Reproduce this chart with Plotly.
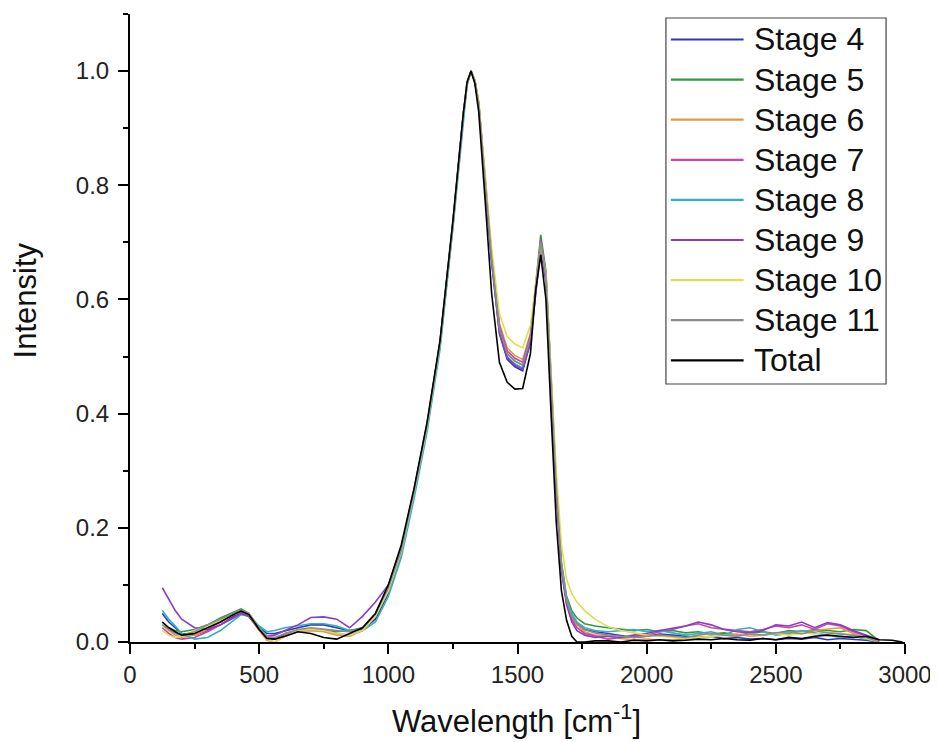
import plotly.graph_objects as go

# ---------------- data ----------------
WAVENUMBER = [
    125, 150, 175, 200, 250, 300, 350, 400, 430, 460, 500, 530, 560, 600, 650, 700, 750, 800, 850, 900, 950, 1000,
    1050, 1100, 1150, 1200, 1250, 1290, 1305, 1320, 1335, 1350, 1380, 1400, 1430, 1460, 1490, 1520, 1550, 1570,
    1590, 1610, 1630, 1650, 1670, 1690, 1710, 1730, 1760, 1800,
    1850, 1900, 1950, 2000, 2050, 2100, 2150, 2200, 2250, 2300, 2350, 2400, 2450, 2500, 2550, 2600, 2650, 2700,
    2750, 2800, 2850, 2900,
]

WAVENUMBER_TOTAL = [
    125, 150, 175, 200, 250, 300, 350, 400, 430, 460, 500, 530, 560, 600, 650, 700, 750, 800, 850, 900, 950, 1000,
    1050, 1100, 1150, 1200, 1250, 1290, 1305, 1320, 1335, 1350, 1380, 1400, 1430, 1460, 1490, 1520, 1550, 1570,
    1590, 1610, 1630, 1650, 1670, 1690, 1710, 1730, 1760, 1800,
    1850, 1900, 1950, 2000, 2050, 2100, 2150, 2200, 2250, 2300, 2350, 2400, 2450, 2500, 2550, 2600, 2650, 2700,
    2750, 2800, 2850, 2900, 2950, 2990,
]

STAGE_4 = [
    0.050, 0.035, 0.025, 0.015, 0.012, 0.020, 0.030, 0.045, 0.050, 0.045, 0.025, 0.015, 0.015, 0.020, 0.025, 0.030,
    0.030, 0.025, 0.020, 0.022, 0.040, 0.085,
    0.155, 0.260, 0.375, 0.520, 0.730, 0.920, 0.978, 1.000, 0.982, 0.940, 0.775, 0.665, 0.540, 0.495, 0.482, 0.475,
    0.525, 0.610, 0.695, 0.635, 0.450, 0.270, 0.130, 0.070, 0.045, 0.032, 0.022, 0.018,
    0.015, 0.012, 0.008, 0.010, 0.014, 0.012, 0.010, 0.008, 0.010, 0.006, 0.008, 0.005, 0.006, 0.004, 0.006, 0.005,
    0.008, 0.004, 0.006, 0.005, 0.003, 0.000,
]
STAGE_5 = [
    0.035, 0.025, 0.020, 0.018, 0.022, 0.030, 0.042, 0.052, 0.058, 0.050, 0.025, 0.008, 0.005, 0.015, 0.020, 0.022,
    0.020, 0.018, 0.020, 0.025, 0.045, 0.090,
    0.160, 0.265, 0.380, 0.525, 0.735, 0.925, 0.980, 1.000, 0.983, 0.943, 0.780, 0.672, 0.550, 0.505, 0.492, 0.485,
    0.535, 0.625, 0.713, 0.650, 0.460, 0.280, 0.140, 0.080, 0.055, 0.042, 0.032, 0.028,
    0.025, 0.022, 0.020, 0.022, 0.018, 0.020, 0.016, 0.018, 0.014, 0.016, 0.012, 0.015, 0.018, 0.015, 0.020, 0.018,
    0.022, 0.020, 0.018, 0.022, 0.020, 0.002,
]
STAGE_6 = [
    0.030, 0.020, 0.012, 0.008, 0.012, 0.022, 0.035, 0.048, 0.052, 0.045, 0.020, 0.003, 0.000, 0.010, 0.018, 0.020,
    0.018, 0.012, 0.010, 0.020, 0.045, 0.090,
    0.158, 0.262, 0.378, 0.522, 0.732, 0.922, 0.979, 1.000, 0.984, 0.945, 0.785, 0.678, 0.558, 0.515, 0.502, 0.495,
    0.540, 0.620, 0.700, 0.640, 0.455, 0.275, 0.135, 0.075, 0.045, 0.030, 0.018, 0.012,
    0.010, 0.006, 0.004, 0.005, 0.003, 0.004, 0.005, 0.008, 0.010, 0.012, 0.014, 0.010, 0.012, 0.016, 0.015, 0.018,
    0.020, 0.022, 0.025, 0.015, 0.008, 0.000,
]
STAGE_7 = [
    0.025, 0.015, 0.008, 0.005, 0.008, 0.018, 0.030, 0.042, 0.050, 0.045, 0.022, 0.008, 0.005, 0.012, 0.020, 0.022,
    0.020, 0.015, 0.012, 0.020, 0.045, 0.090,
    0.155, 0.260, 0.376, 0.520, 0.730, 0.920, 0.978, 1.000, 0.983, 0.943, 0.782, 0.675, 0.555, 0.510, 0.497, 0.490,
    0.538, 0.620, 0.705, 0.645, 0.455, 0.270, 0.130, 0.068, 0.040, 0.025, 0.015, 0.010,
    0.005, 0.008, 0.010, 0.012, 0.018, 0.022, 0.028, 0.032, 0.025, 0.022, 0.020, 0.018, 0.022, 0.028, 0.025, 0.030,
    0.022, 0.032, 0.028, 0.018, 0.010, 0.003,
]
STAGE_8 = [
    0.055, 0.040, 0.028, 0.015, 0.005, 0.008, 0.020, 0.038, 0.048, 0.045, 0.028, 0.018, 0.020, 0.025, 0.028, 0.032,
    0.032, 0.028, 0.020, 0.020, 0.035, 0.080,
    0.148, 0.252, 0.368, 0.512, 0.725, 0.915, 0.976, 1.000, 0.982, 0.942, 0.778, 0.668, 0.546, 0.500, 0.487, 0.480,
    0.530, 0.615, 0.700, 0.640, 0.455, 0.275, 0.135, 0.075, 0.050, 0.035, 0.025, 0.020,
    0.018, 0.020, 0.022, 0.018, 0.020, 0.016, 0.012, 0.015, 0.018, 0.012, 0.022, 0.025, 0.018, 0.012, 0.015, 0.020,
    0.016, 0.012, 0.008, 0.010, 0.005, 0.000,
]
STAGE_9 = [
    0.095, 0.075, 0.055, 0.040, 0.025, 0.022, 0.030, 0.042, 0.050, 0.045, 0.022, 0.010, 0.012, 0.020, 0.030, 0.043,
    0.044, 0.040, 0.025, 0.045, 0.070, 0.100,
    0.165, 0.268, 0.382, 0.525, 0.735, 0.922, 0.980, 1.000, 0.982, 0.940, 0.776, 0.667, 0.543, 0.498, 0.485, 0.478,
    0.525, 0.605, 0.690, 0.630, 0.445, 0.265, 0.125, 0.065, 0.035, 0.020, 0.012, 0.008,
    0.010, 0.008, 0.012, 0.015, 0.020, 0.024, 0.028, 0.035, 0.030, 0.022, 0.018, 0.016, 0.020, 0.030, 0.028, 0.035,
    0.025, 0.034, 0.030, 0.020, 0.012, 0.004,
]
STAGE_10 = [
    0.020, 0.012, 0.008, 0.010, 0.020, 0.028, 0.038, 0.050, 0.055, 0.048, 0.022, 0.005, 0.000, 0.010, 0.020, 0.022,
    0.020, 0.015, 0.012, 0.020, 0.045, 0.090,
    0.157, 0.262, 0.377, 0.522, 0.732, 0.922, 0.979, 1.000, 0.985, 0.948, 0.792, 0.690, 0.575, 0.535, 0.522, 0.515,
    0.555, 0.625, 0.695, 0.645, 0.470, 0.300, 0.170, 0.110, 0.085, 0.070, 0.055, 0.040,
    0.027, 0.020, 0.016, 0.012, 0.010, 0.008, 0.006, 0.008, 0.010, 0.012, 0.010, 0.014, 0.012, 0.015, 0.012, 0.016,
    0.014, 0.018, 0.015, 0.012, 0.006, 0.000,
]
STAGE_11 = [
    0.030, 0.022, 0.015, 0.012, 0.018, 0.030, 0.040, 0.050, 0.056, 0.050, 0.025, 0.010, 0.008, 0.015, 0.022, 0.025,
    0.022, 0.020, 0.018, 0.025, 0.050, 0.095,
    0.160, 0.265, 0.380, 0.524, 0.733, 0.923, 0.980, 1.000, 0.983, 0.943, 0.780, 0.672, 0.550, 0.505, 0.492, 0.485,
    0.533, 0.618, 0.700, 0.640, 0.455, 0.272, 0.132, 0.072, 0.045, 0.032, 0.022, 0.016,
    0.012, 0.010, 0.008, 0.010, 0.012, 0.010, 0.008, 0.012, 0.015, 0.012, 0.010, 0.014, 0.012, 0.016, 0.018, 0.014,
    0.020, 0.016, 0.014, 0.012, 0.008, 0.000,
]
TOTAL = [
    0.035, 0.025, 0.018, 0.012, 0.015, 0.025, 0.035, 0.048, 0.054, 0.048, 0.022, 0.006, 0.005, 0.010, 0.018, 0.015,
    0.008, 0.005, 0.015, 0.025, 0.050, 0.100,
    0.170, 0.270, 0.385, 0.528, 0.738, 0.925, 0.981, 1.000, 0.978, 0.928, 0.740, 0.610, 0.490, 0.455, 0.443, 0.444,
    0.505, 0.615, 0.678, 0.600, 0.400, 0.210, 0.090, 0.038, 0.010, 0.000, 0.000, 0.002,
    0.002, 0.000, 0.003, 0.002, 0.004, 0.002, 0.003, 0.005, 0.004, 0.006, 0.004, 0.003, 0.006, 0.004, 0.008, 0.006,
    0.010, 0.012, 0.010, 0.008, 0.010, 0.004, 0.003, 0.000,
]

SERIES_NAMES = ["Stage 4", "Stage 5", "Stage 6", "Stage 7", "Stage 8", "Stage 9", "Stage 10", "Stage 11", "Total"]
SERIES_VALUES = [STAGE_4, STAGE_5, STAGE_6, STAGE_7, STAGE_8, STAGE_9, STAGE_10, STAGE_11, TOTAL]
SERIES_X = [WAVENUMBER] * 8 + [WAVENUMBER_TOTAL]
SERIES_COLORS = ["#3434b8", "#2e9a40", "#e29a48", "#cc44a6", "#30b0c4", "#8a3cc4", "#dede50", "#8c8c8c", "#000000"]

X_TICKS = [0, 500, 1000, 1500, 2000, 2500, 3000]
Y_TICKS = [0.0, 0.2, 0.4, 0.6, 0.8, 1.0]
X_TITLE = "Wavelength [cm<sup>-1</sup>]"
Y_TITLE = "Intensity"

# ---------------- layout geometry (pixels) ----------------
# The page body has an 8px default margin, so the figure is laid out 8px
# smaller and all reference pixel positions are shifted by -8.
OFF = 8
W, H = 938 - OFF, 742 - OFF
PL, PR, PT, PB = 130 - OFF, 908 - OFF, 14 - OFF, 642 - OFF
FONT = "Liberation Sans, Arial, sans-serif"


def px(xp):
    return (xp - OFF - PL) / (PR - PL)


def py(yp):
    return (PB - (yp - OFF)) / (PB - PT)


fig = go.Figure()
for name, xs, ys, col in zip(SERIES_NAMES, SERIES_X, SERIES_VALUES, SERIES_COLORS):
    fig.add_trace(go.Scatter(x=xs, y=ys, mode="lines", name=name,
                             line=dict(color=col, width=1.6), showlegend=False))

# custom Origin-style legend
shapes = [dict(type="rect", xref="paper", yref="paper",
               x0=px(668), x1=px(889), y0=py(384), y1=py(18),
               line=dict(color="#444444", width=1.2), fillcolor="rgba(0,0,0,0)")]
annotations = []
for i, (name, col) in enumerate(zip(SERIES_NAMES, SERIES_COLORS)):
    yy = 39.5 + 40.1 * i
    shapes.append(dict(type="line", xref="paper", yref="paper",
                       x0=px(673), x1=px(746), y0=py(yy), y1=py(yy),
                       line=dict(color=col, width=2.2)))
    annotations.append(dict(text=name, xref="paper", yref="paper", x=px(754), y=py(yy),
                            xanchor="left", yanchor="middle", showarrow=False,
                            font=dict(family=FONT, size=32, color="#111111")))

annotations.append(dict(text=Y_TITLE, xref="paper", yref="paper", x=px(25), y=py(300),
                        xanchor="center", yanchor="middle", textangle=-90, showarrow=False,
                        font=dict(family=FONT, size=31, color="#111111")))
annotations.append(dict(text=X_TITLE, xref="paper", yref="paper", x=px(518), y=py(719),
                        xanchor="center", yanchor="middle", showarrow=False,
                        font=dict(family=FONT, size=31, color="#111111")))

axis_common = dict(showline=True, linecolor="black", linewidth=2, ticks="outside",
                   ticklen=10, tickwidth=2, tickcolor="black", showgrid=False, zeroline=False,
                   tickfont=dict(family=FONT, size=24, color="#222222"), mirror=False)

fig.update_layout(
    width=W, height=H,
    margin=dict(l=PL, r=W - PR, t=PT, b=H - PB, pad=0),
    paper_bgcolor="white", plot_bgcolor="white",
    showlegend=False,
    shapes=shapes, annotations=annotations,
    xaxis=dict(range=[0, 3000], tickvals=X_TICKS, ticktext=[str(v) for v in X_TICKS],
               minor=dict(ticks="outside", ticklen=5, tickwidth=2, tickcolor="black", dtick=250, tick0=0),
               **axis_common),
    yaxis=dict(range=[0, 1.1], tickvals=Y_TICKS, ticktext=[f"{v:.1f}" for v in Y_TICKS],
               minor=dict(ticks="outside", ticklen=5, tickwidth=2, tickcolor="black", dtick=0.1, tick0=0),
               ticklabelstandoff=4,
               **axis_common),
)

fig.write_html("out.html")
